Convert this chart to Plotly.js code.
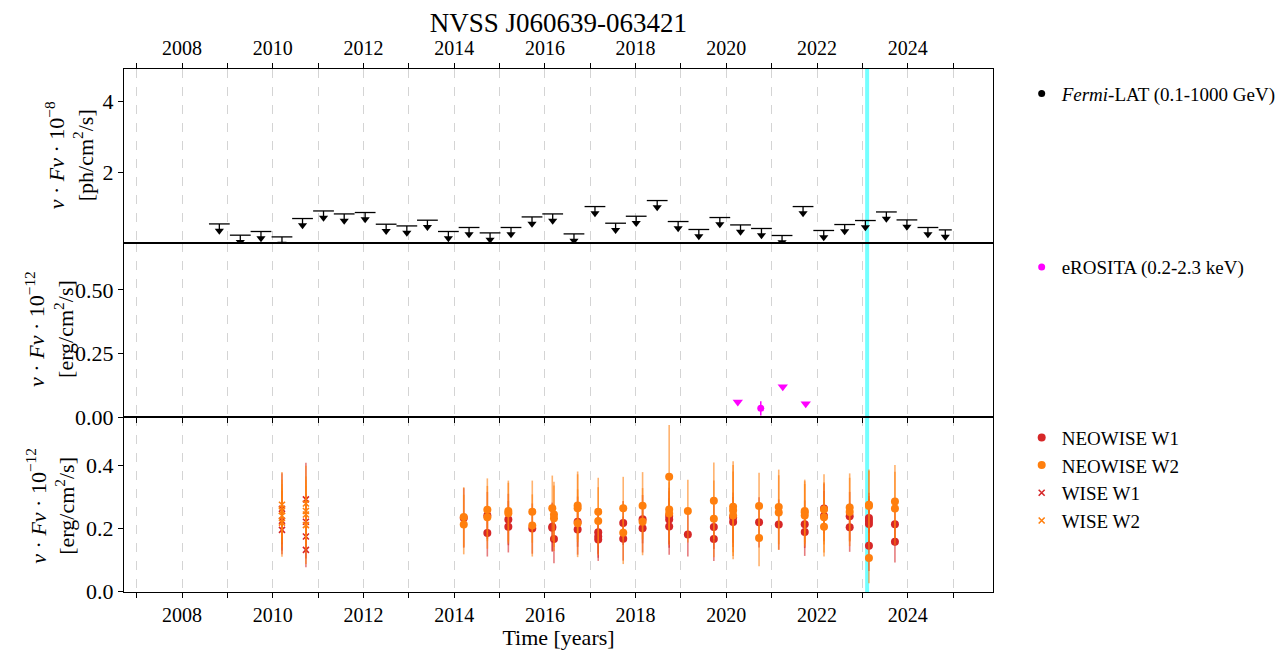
<!DOCTYPE html>
<html><head><meta charset="utf-8">
<script src="https://cdn.plot.ly/plotly-3.0.1.min.js"></script>
<style>html,body{margin:0;padding:0;background:#fff}</style>
</head><body><div id="chart" style="width:1285px;height:650px"></div>
<script>
// ---------------- data ----------------
const fermiTime = [2008.822,2009.284,2009.740,2010.203,2010.656,2011.119,2011.575,2012.037,2012.500,2012.956,
  2013.410,2013.872,2014.328,2014.791,2015.253,2015.716,2016.172,2016.641,2017.104,2017.559,
  2018.013,2018.476,2018.938,2019.394,2019.857,2020.313,2020.775,2021.229,2021.692,2022.148,
  2022.610,2023.066,2023.529,2023.982,2024.445,2024.828];
const fermiUL = [0.564,0.249,0.352,0.201,0.715,0.927,0.844,0.883,0.556,0.508,
  0.668,0.352,0.464,0.313,0.464,0.760,0.844,0.285,1.050,0.584,
  0.779,1.218,0.631,0.408,0.743,0.536,0.436,0.240,1.050,0.380,
  0.547,0.659,0.899,0.676,0.464,0.397];
const fermiHalfBin = [0.229,0.229,0.229,0.229,0.229,0.229,0.229,0.229,0.229,0.229,
  0.229,0.229,0.229,0.229,0.229,0.229,0.229,0.229,0.229,0.229,
  0.229,0.229,0.229,0.229,0.229,0.229,0.229,0.229,0.229,0.229,
  0.229,0.229,0.229,0.229,0.229,0.143];

const eroTime = [2020.760];
const eroFlux = [0.034];
const eroErr = [0.028];
const eroULTime = [2020.253, 2021.245, 2021.751];
const eroUL = [0.059, 0.119, 0.052];

const nw1Time = [2014.211, 2014.731,2014.731, 2015.194,2015.194, 2015.722, 2016.163,2016.163,2016.200,
  2016.722,2016.722, 2017.176,2017.176,2017.176, 2017.727,2017.727, 2018.154,2018.154,
  2018.740,2018.740,2018.740, 2019.152, 2019.725,2019.725, 2020.150,2020.150, 2020.722,
  2021.156, 2021.729,2021.729, 2022.154,2022.154, 2022.720,2022.720,
  2023.145,2023.145,2023.145,2023.145, 2023.718,2023.718];
const nw1Flux = [0.233, 0.241,0.185, 0.228,0.205, 0.199, 0.205,0.202,0.166,
  0.221,0.196, 0.187,0.174,0.164, 0.217,0.167, 0.229,0.200,
  0.239,0.228,0.206, 0.180, 0.204,0.166, 0.234,0.220, 0.219,
  0.212, 0.213,0.188, 0.263,0.239, 0.238,0.203,
  0.233,0.223,0.214,0.144, 0.213,0.157];
const nw1Err = [0.095, 0.075,0.075, 0.082,0.082, 0.080, 0.077,0.077,0.077,
  0.080,0.080, 0.068,0.068,0.068, 0.070,0.070, 0.077,0.077,
  0.090,0.090,0.090, 0.070, 0.070,0.070, 0.080,0.080, 0.080,
  0.080, 0.076,0.076, 0.080,0.080, 0.078,0.078,
  0.080,0.080,0.080,0.080, 0.066,0.066];

const nw2Time = [2014.211,2014.211, 2014.731,2014.731, 2015.194,2015.194, 2015.722,2015.722,
  2016.163,2016.200,2016.200, 2016.722,2016.722,2016.722, 2017.176,2017.176, 2017.727,2017.727,
  2018.154,2018.154, 2018.740,2018.740,2018.740, 2019.152, 2019.725,2019.725,
  2020.150,2020.150,2020.150, 2020.722,2020.722, 2021.156,2021.156, 2021.729,2021.729,2021.729,
  2022.154,2022.154,2022.154, 2022.720,2022.720, 2023.145,2023.145,2023.145, 2023.718,2023.718];
const nw2Flux = [0.236,0.212, 0.259,0.235, 0.255,0.248, 0.253,0.209,
  0.264,0.244,0.232, 0.273,0.264,0.216, 0.253,0.223, 0.264,0.186,
  0.272,0.221, 0.364,0.260,0.247, 0.255, 0.288,0.230,
  0.269,0.257,0.241, 0.271,0.169, 0.268,0.250, 0.255,0.250,0.241,
  0.260,0.235,0.205, 0.266,0.252, 0.275,0.271,0.105, 0.285,0.263];
const nw2Err = [0.095,0.095, 0.100,0.100, 0.097,0.097, 0.099,0.099,
  0.104,0.104,0.104, 0.108,0.108,0.108, 0.108,0.108, 0.100,0.100,
  0.107,0.107, 0.165,0.100,0.100, 0.100, 0.122,0.122,
  0.145,0.145,0.140, 0.106,0.090, 0.119,0.119, 0.100,0.100,0.100,
  0.112,0.112,0.095, 0.109,0.109, 0.112,0.112,0.080, 0.117,0.117];

const w1Time = [2010.203,2010.203,2010.203, 2010.731,2010.731,2010.731,2010.731];
const w1Flux = [0.262,0.224,0.195, 0.292,0.221,0.174,0.131];
const w1Err = [0.113,0.095,0.078, 0.117,0.090,0.070,0.055];
const w2Time = [2010.203,2010.203,2010.203,2010.203, 2010.731,2010.731,2010.731,2010.731];
const w2Flux = [0.275,0.255,0.240,0.218, 0.279,0.255,0.244,0.210];
const w2Err = [0.104,0.100,0.100,0.109, 0.120,0.110,0.110,0.124];

const eventTime = 2023.105;

const yearTicks = [2007,2008,2009,2010,2011,2012,2013,2014,2015,2016,2017,2018,2019,2020,2021,2022,2023,2024,2025];
const yearLabels = ['','2008','','2010','','2012','','2014','','2016','','2018','','2020','','2022','','2024',''];

const yLabelTop = '<i>ν</i> · <i>Fν</i> · 10<sup>−8</sup><br>[ph/cm<sup>2</sup>/s]';
const yLabelX = '<i>ν</i> · <i>Fν</i> · 10<sup>−12</sup><br>[erg/cm<sup>2</sup>/s]';
const yLabelIR = '<i>ν</i> · <i>Fν</i> · 10<sup>−12</sup><br>[erg/cm<sup>2</sup>/s]';

// ---------------- styling ----------------
const FONT = 'Liberation Serif, DejaVu Serif, serif';
const RED = '#d62728', ORANGE = '#ff7f0e', MAG = '#ff00ff';
const ARROW = 0.19; // arrow length in top-panel units

const traces = [];
traces.push({
  x: fermiTime, y: fermiUL, xaxis:'x3', yaxis:'y3', mode:'markers', type:'scatter',
  marker:{size:1, color:'rgba(0,0,0,0)'}, showlegend:false, hoverinfo:'skip',
  error_x:{type:'data', array:fermiHalfBin, symmetric:true, width:0, thickness:1.3, color:'#000'},
  error_y:{type:'data', symmetric:false, array:fermiUL.map(()=>0), arrayminus:fermiUL.map(()=>ARROW), width:0, thickness:1.3, color:'#000'}
});
traces.push({
  x: fermiTime, y: fermiUL.map(v=>v-ARROW), xaxis:'x3', yaxis:'y3', mode:'markers', type:'scatter',
  marker:{symbol:'triangle-down', size:8, color:'#000'}, showlegend:false
});
traces.push({
  x:[null], y:[null], xaxis:'x3', yaxis:'y3', mode:'markers', type:'scatter',
  name:'<i>Fermi</i>-LAT (0.1-1000 GeV)', marker:{symbol:'circle', size:7, color:'#000'}, legend:'legend'
});
traces.push({
  x: eroTime, y: eroFlux, xaxis:'x2', yaxis:'y2', mode:'markers', type:'scatter',
  name:'eROSITA (0.2-2.3 keV)', legend:'legend2',
  marker:{symbol:'circle', size:7, color:MAG},
  error_y:{type:'data', array:eroErr, width:0, thickness:1.5, color:MAG}
});
traces.push({
  x: eroULTime, y: eroUL, xaxis:'x2', yaxis:'y2', mode:'markers', type:'scatter',
  marker:{symbol:'triangle-down', size:9, color:MAG}, showlegend:false
});
function wiseTrace(x, y, e, name, col, sym){
  const isX = sym !== 'circle';
  return {
    x:x, y:y, xaxis:'x', yaxis:'y', mode:'markers', type:'scatter', name:name, legend:'legend3',
    marker: isX ? {symbol:'x-thin', size:6, color:col, line:{color:col, width:1.6}}
                : {symbol:'circle', size:8, color:col},
    error_y:{type:'data', array:e, width:0, thickness:1.6, color: col===RED ? 'rgba(214,39,40,0.6)' : 'rgba(255,127,14,0.6)'}
  };
}
traces.push(wiseTrace(nw1Time, nw1Flux, nw1Err, 'NEOWISE W1', RED, 'circle'));
traces.push(wiseTrace(nw2Time, nw2Flux, nw2Err, 'NEOWISE W2', ORANGE, 'circle'));
traces.push(wiseTrace(w1Time, w1Flux, w1Err, 'WISE W1', RED, 'x'));
traces.push(wiseTrace(w2Time, w2Flux, w2Err, 'WISE W2', ORANGE, 'x'));

const xRange = [2006.72, 2025.88];
function xAxis(extra){
  return Object.assign({
    range:xRange, tickmode:'array', tickvals:yearTicks, ticktext:yearLabels,
    showgrid:true, gridcolor:'#d4d4d4', griddash:'dash', gridwidth:1,
    showline:true, mirror:true, linecolor:'#000', linewidth:1,
    ticks:'outside', ticklen:5, tickwidth:1, tickcolor:'#000',
    tickfont:{family:FONT, size:20, color:'#000'}, zeroline:false, fixedrange:true
  }, extra);
}
function yAxis(extra){
  return Object.assign({
    showgrid:false, zeroline:false, showline:true, mirror:true, linecolor:'#000', linewidth:1,
    ticks:'outside', ticklen:5, tickwidth:1, tickcolor:'#000', tickmode:'array',
    tickfont:{family:FONT, size:22, color:'#000'}, fixedrange:true
  }, extra);
}
const H = 523;
const d1 = 175/H, d2 = 349/H;
const cyanLine = (xr, yr) => ({type:'line', xref:xr, yref:yr, x0:eventTime, x1:eventTime, y0:0, y1:1, layer:'below', line:{color:'rgba(0,255,255,0.55)', width:4}});
const yLab = (text, x, y) => ({text:text, xref:'paper', yref:'paper', x:x, y:y, xanchor:'center', yanchor:'middle',
  textangle:-90, showarrow:false, font:{family:FONT, size:22, color:'#000'}});

const layout = {
  width:1285, height:650,
  margin:{l:124, r:292, t:69, b:58, autoexpand:false},
  paper_bgcolor:'#fff', plot_bgcolor:'rgba(0,0,0,0)',
  font:{family:FONT, color:'#000'},
  title:{text:'NVSS J060639-063421', font:{family:FONT, size:27, color:'#000'}, x:0.4346, xanchor:'center', y:0.966, yanchor:'middle'},
  xaxis: xAxis({domain:[0,1], anchor:'y', title:{text:'Time [years]', font:{family:FONT, size:22}, standoff:7}}),
  xaxis2: xAxis({domain:[0,1], anchor:'y2', matches:'x', showticklabels:false}),
  xaxis3: xAxis({domain:[0,1], anchor:'y3', matches:'x', side:'top'}),
  yaxis: yAxis({domain:[0,d1], range:[-0.003,0.5546], tickvals:[0,0.2,0.4], ticktext:['0.0','0.2','0.4']}),
  yaxis2: yAxis({domain:[d1,d2], range:[0,0.685], tickvals:[0,0.25,0.5], ticktext:['0.00','0.25','0.50']}),
  yaxis3: yAxis({domain:[d2,1], range:[0.03,4.9], tickvals:[2,4], ticktext:['2','4']}),
  annotations:[
    yLab(yLabelTop, -0.0633, 0.835),
    yLab(yLabelX, -0.0852, 0.503),
    yLab(yLabelIR, -0.084, 0.165)
  ],
  legend:{x:1.033, xanchor:'left', y:0.953, yanchor:'middle', bgcolor:'rgba(0,0,0,0)', font:{family:FONT, size:19, color:'#000'}},
  legend2:{x:1.033, xanchor:'left', y:0.621, yanchor:'middle', bgcolor:'rgba(0,0,0,0)', font:{family:FONT, size:19, color:'#000'}},
  legend3:{x:1.033, xanchor:'left', y:0.216, yanchor:'middle', bgcolor:'rgba(0,0,0,0)', font:{family:FONT, size:19, color:'#000'}, tracegroupgap:0},
  shapes:[cyanLine('x','y domain'), cyanLine('x2','y2 domain'), cyanLine('x3','y3 domain')],
  showlegend:true
};
Plotly.newPlot('chart', traces, layout, {displayModeBar:false, staticPlot:true});
</script>
</body></html>
